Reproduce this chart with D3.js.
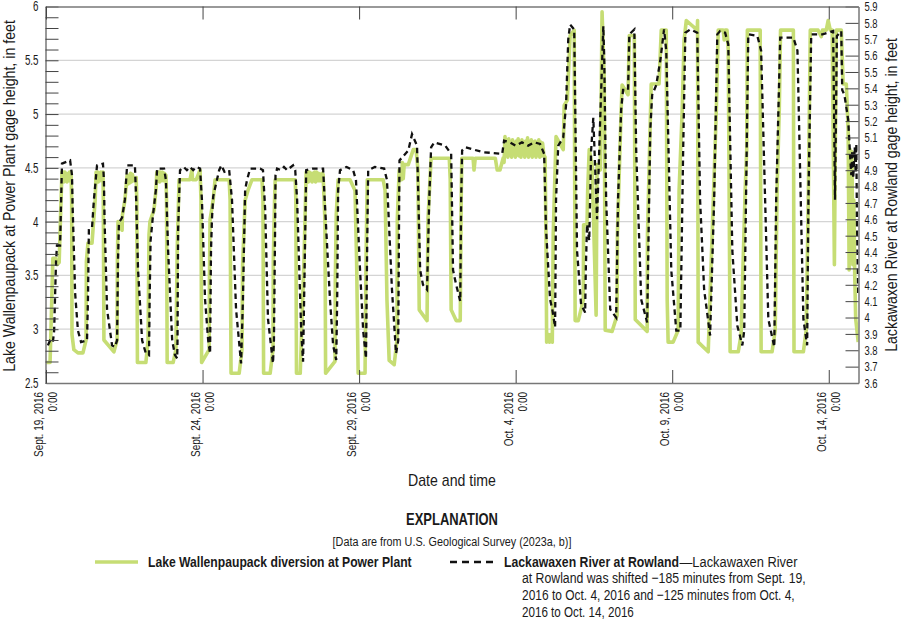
<!DOCTYPE html>
<html><head><meta charset="utf-8">
<script src="https://cdnjs.cloudflare.com/ajax/libs/d3/7.8.5/d3.min.js"></script>
<style>
html,body{margin:0;padding:0;background:#fff}
svg{display:block}
text{font-family:"Liberation Sans",sans-serif;fill:#1a1a1a}
</style></head><body>
<svg id="c" width="903" height="621"></svg>
<script>
const tickDays=[0,5,10,15,20,25];
const tickDates=["Sept. 19, 2016","Sept. 24, 2016","Sept. 29, 2016","Oct. 4, 2016","Oct. 9, 2016","Oct. 14, 2016"];
const tickTime="0:00";
const leftLabelled=[2.5,3,3.5,4,4.5,5,5.5,6];
const gridValues=[3,3.5,4,4.5,5,5.5];
const leftTitle="Lake Wallenpaupack at Power Plant gage height, in feet";
const rightTitle="Lackawaxen River at Rowland gage height, in feet";
const xTitle="Date and time";

const greenDV=[
0,2.69,.13,2.69,.22,3.66,.3,3.66,.35,3.6,.42,3.62,.48,4.2,.51,4.46,.53,4.38,.55,4.46,.57,4.37,.6,4.46,.62,4.38,.65,4.45,.67,4.37,.7,4.44,.72,4.38,.75,4.46,.77,4.39,.8,4.46,
.82,4.2,.83,2.95,.89,2.81,1.02,2.78,1.18,2.78,1.28,2.9,1.29,3.63,1.34,3.8,1.47,3.8,1.57,4.2,1.6,4.46,1.62,4.38,1.65,4.46,1.67,4.37,1.7,4.45,1.72,4.38,1.75,4.46,1.77,4.39,1.8,4.45,1.82,4.46,
1.83,4.2,1.85,2.9,2.17,2.79,2.27,2.9,2.28,3.64,2.3,4,2.43,3.92,2.44,4.06,2.52,4.2,2.59,4.43,2.62,4.35,2.65,4.43,2.67,4.36,2.7,4.45,2.73,4.37,2.76,4.44,2.8,4.38,2.88,4.41,
2.9,4.2,2.92,2.69,3.19,2.69,3.26,2.9,3.29,3.88,3.32,4,3.45,4.11,3.51,4.29,3.54,4.46,3.57,4.38,3.6,4.46,3.63,4.37,3.65,4.46,3.68,4.38,3.72,4.46,3.75,4.38,3.78,4.45,3.83,4.43,
3.85,4.2,3.87,2.69,4.06,2.69,4.15,2.81,4.19,3.74,4.22,4.06,4.25,4.39,4.6,4.39,4.66,4.48,4.68,4.39,4.8,4.39,4.92,4.48,
4.95,4.2,4.97,2.69,5.21,2.81,5.22,3.46,5.24,4.02,5.34,4.2,5.4,4.39,5.85,4.39,5.88,4.2,5.91,2.59,6.17,2.59,6.26,2.81,6.28,3.6,6.36,4.2,6.45,4.29,6.58,4.39,
6.9,4.39,6.93,4.2,6.95,2.59,7.16,2.59,7.25,2.81,7.26,3.64,7.3,4.2,7.32,4.39,7.96,4.39,7.98,4.2,8,2.59,8.12,2.59,8.24,3.64,8.31,4.46,
8.33,4.38,8.36,4.46,8.38,4.37,8.41,4.46,8.44,4.38,8.47,4.45,8.5,4.37,8.52,4.45,8.55,4.38,8.58,4.46,8.61,4.37,8.64,4.46,8.67,4.38,8.7,4.45,8.73,4.38,8.76,4.44,8.79,4.38,8.82,4.45,8.85,4.44,
8.91,4,8.93,2.59,9.23,2.7,9.24,3.46,9.27,4.06,9.33,4.39,9.71,4.39,9.87,4.29,9.92,3.64,9.97,2.59,10.19,2.59,10.22,3.6,10.24,4.02,10.26,4.39,10.77,4.39,
10.83,4.29,10.89,3.27,10.96,2.71,11.12,2.67,11.21,2.9,11.22,4.02,11.28,4.48,11.31,4.39,11.36,4.39,11.38,4.55,11.41,4.4,11.44,4.53,11.57,4.53,11.73,4.67,11.82,4.67,11.88,4.48,
11.92,3.18,12.17,3.08,12.2,4.02,12.3,4.59,12.88,4.59,12.91,4.39,12.94,3.18,13.1,3.08,13.23,3.08,13.26,4.2,13.28,4.59,13.64,4.59,13.67,4.48,13.71,4.59,14.35,4.59,14.41,4.48,14.5,4.48,14.6,4.59,14.63,4.55,
14.66,4.79,14.69,4.62,14.72,4.76,14.75,4.6,14.78,4.77,14.81,4.62,14.84,4.74,14.87,4.6,14.9,4.76,14.93,4.63,14.96,4.73,14.99,4.6,15.02,4.75,15.05,4.62,15.08,4.77,15.11,4.61,15.14,4.74,15.17,4.6,15.2,4.76,15.23,4.63,15.26,4.74,15.29,4.6,15.32,4.75,15.35,4.62,15.38,4.78,15.41,4.6,15.44,4.73,15.47,4.62,15.5,4.76,15.53,4.6,15.56,4.74,15.59,4.62,15.62,4.75,15.65,4.6,15.68,4.73,15.71,4.62,15.74,4.76,15.77,4.6,15.8,4.74,15.83,4.61,15.86,4.73,15.9,4.62,15.94,4.6,
15.97,3.83,15.99,2.88,16.05,2.95,16.08,2.88,16.12,2.95,16.17,2.88,16.2,3.88,16.29,4.79,16.52,4.67,16.55,5.08,16.65,5.13,16.74,5.73,16.87,5.78,16.9,3.08,17,3.08,17.16,3.27,17.17,3.97,17.28,3.97,17.3,4.29,17.35,4.67,17.44,4.53,17.57,3.13,17.6,4.53,17.7,4.48,17.73,5.13,17.76,5.95,17.83,5.32,17.86,2.99,18.08,2.98,18.24,3.13,18.25,3.88,18.34,4.76,18.37,5.04,18.4,5.27,18.59,5.18,18.63,5.73,18.79,5.73,18.82,3.09,19.2,2.98,19.21,3.88,19.3,4.94,19.33,5.28,19.58,5.28,19.65,5.78,19.81,5.78,19.84,3.27,19.87,2.88,20.03,2.88,20.19,2.99,20.22,4.29,20.32,5.04,20.38,5.69,20.45,5.87,20.8,5.78,20.81,5.87,20.83,2.88,21.15,2.79,21.28,3.92,21.41,5.04,21.47,5.78,21.63,5.78,21.66,5.69,21.69,5.78,21.75,5.78,21.79,5.6,21.82,4.2,21.85,2.79,22.11,2.79,22.2,2.95,22.33,4.29,22.38,4.67,22.4,5.78,22.81,5.78,22.84,2.79,23.19,2.79,23.29,2.99,23.35,4.29,23.42,5.04,23.46,5.78,23.87,5.78,23.89,2.79,24.19,2.79,24.28,2.99,24.35,4.29,24.38,5.04,24.41,5.78,24.66,5.78,24.76,5.72,24.8,5.78,24.92,5.78,24.98,5.87,25.05,5.78,25.11,5.78,25.18,3.6,25.24,5.78,25.4,5.78,25.46,5.28,25.56,5.28,25.62,4.85,25.65,3.55,25.68,4.67,25.71,3.75,25.74,4.65,25.77,3.6,25.8,4.2,25.83,3.5,25.86,3.1,25.94,2.88];

const blackDV=[
.06,3.83,.13,3.86,.19,3.86,.22,3.85,.26,3.92,.32,4.34,.35,4.44,.45,4.44,.51,4.94,.77,4.96,.83,4.87,.85,4.68,.93,4.15,1.02,3.92,1.12,3.85,1.31,3.86,1.34,4.11,1.37,4.54,1.47,4.55,1.53,4.72,1.63,4.93,1.82,4.94,1.85,4.84,1.87,4.6,1.95,4.05,2.11,3.83,2.2,3.82,2.27,3.86,2.3,4.35,2.33,4.58,2.43,4.61,2.52,4.72,2.59,4.93,2.84,4.93,2.88,4.72,2.94,4.29,3.07,3.86,3.19,3.78,3.29,3.77,3.31,4.11,3.34,4.47,3.42,4.63,3.51,4.78,3.55,4.91,3.77,4.91,3.83,4.84,3.9,4.41,4.03,3.86,4.12,3.77,4.19,3.75,4.2,3.86,4.22,4.54,4.28,4.9,4.4,4.92,4.5,4.9,4.6,4.92,4.7,4.9,4.8,4.92,4.92,4.91,4.98,4.72,5.08,4.11,5.18,3.86,5.24,3.78,5.27,4.41,5.3,4.6,5.34,4.74,5.53,4.9,5.6,4.93,5.7,4.89,5.85,4.9,5.94,4.72,6.07,4.05,6.23,3.72,6.29,4.11,6.36,4.78,6.42,4.84,6.52,4.91,6.84,4.91,6.93,4.9,7,4.66,7.09,3.99,7.25,3.72,7.28,3.86,7.32,4.6,7.33,4.87,7.38,4.91,7.5,4.9,7.6,4.92,7.7,4.9,7.89,4.93,7.96,4.9,8.02,4.72,8.15,3.92,8.21,3.73,8.27,4.41,8.31,4.9,8.5,4.91,8.85,4.91,8.95,4.54,9.07,4.11,9.17,3.83,9.27,3.74,9.3,4.11,9.33,4.78,9.39,4.9,9.6,4.92,9.81,4.9,9.9,4.84,10.03,4.29,10.13,3.92,10.22,3.75,10.26,4.47,10.29,4.9,10.5,4.92,10.8,4.91,10.89,4.84,11.05,4.17,11.18,3.78,11.25,3.86,11.28,4.72,11.29,4.96,11.57,5.02,11.69,5.12,11.85,5.05,11.95,4.29,12.04,4.2,12.17,4.17,12.24,4.72,12.3,5.04,12.4,5.07,12.75,5.05,12.94,5,13,4.29,13.1,4.2,13.23,4.1,13.26,4.72,13.29,5.02,13.39,5.04,13.96,5.01,14.57,5,14.63,5.08,14.82,5.07,15,5.05,15.2,5.07,15.4,5.05,15.6,5.07,15.78,5.06,15.91,5,15.97,4.54,16.1,4.11,16.17,4.05,16.26,3.94,16.29,4.72,16.36,5.05,16.52,5.1,16.61,5.3,16.68,5.7,16.74,5.79,16.87,5.76,16.9,5.33,16.96,4.41,17.09,4.08,17.22,4.03,17.24,4.29,17.28,4.57,17.35,4.47,17.41,5.02,17.48,5.22,17.6,4.6,17.7,5.21,17.8,5.78,17.83,5.57,17.89,4.72,18.02,4.05,18.21,4,18.27,4.72,18.37,5.27,18.43,5.39,18.59,5.39,18.63,5.73,18.79,5.76,18.85,5.02,19.01,4.11,19.2,3.97,19.3,5.15,19.36,5.36,19.49,5.42,19.62,5.57,19.74,5.76,19.81,5.63,19.97,4.29,20.13,3.92,20.26,3.92,20.35,5.02,20.42,5.74,20.58,5.76,20.8,5.74,20.89,4.72,21.02,4.17,21.21,3.89,21.34,4.72,21.44,5.73,21.53,5.75,21.69,5.74,21.79,5.67,21.92,4.41,22.08,3.95,22.24,3.83,22.3,3.92,22.43,5.73,22.72,5.72,22.84,5.63,23.07,3.99,23.26,3.82,23.32,4.72,23.45,5.71,23.87,5.71,24,5.63,24.19,3.99,24.31,3.83,24.35,4.72,24.44,5.73,24.8,5.73,25.14,5.75,25.2,4.72,25.26,5.72,25.4,5.75,25.43,5.39,25.5,5.36,25.62,5.21,25.69,4.96,25.72,4.87,25.75,5.02,25.78,4.85,25.83,5.04,25.86,4.88,25.88,5.06,25.9,4.6,25.94,4.15];

const toPairs=a=>d3.range(0,a.length,2).map(i=>[a[i],a[i+1]]);
const L=45.5,R=858.5,T=6.5,B=383;
const svg=d3.select("#c");
const x=d3.scaleLinear().domain([0,25.95]).range([L+.5,R]);
const yL=d3.scaleLinear().domain([2.5,6]).range([B,T]);
const yR=d3.scaleLinear().domain([3.6,5.9]).range([B,T]);

// The reference uses a narrow face: each text is placed, rotated if needed, and scaled in width.
function place(sel,px,py,rot,target){
  const w=sel.node().getComputedTextLength();
  const k=target/w;
  sel.attr("transform",`translate(${px},${py})${rot?` rotate(${rot})`:""} scale(${k.toFixed(4)},1)`);
  return sel;
}
function squeezeAxis(sel,k,dx){sel.each(function(){
  this.removeAttribute("x");
  this.setAttribute("transform",`translate(${dx},0) scale(${k},1)`);
});}

svg.append("g").selectAll("line").data(gridValues).join("line")
 .attr("x1",L).attr("x2",R).attr("y1",d=>yL(d)).attr("y2",d=>yL(d))
 .attr("stroke","#d4d4d4").attr("stroke-width",1.3);

svg.append("clipPath").attr("id","pl").append("rect").attr("x",L).attr("y",T).attr("width",R-L).attr("height",B-T);

svg.append("path").datum(toPairs(greenDV))
 .attr("d",d3.line().x(d=>x(d[0])).y(d=>yL(d[1])))
 .attr("fill","none").attr("stroke","#c6dd74").attr("stroke-width",3.6).attr("stroke-linejoin","round").attr("clip-path","url(#pl)");
svg.append("path").datum(toPairs(blackDV))
 .attr("d",d3.line().x(d=>x(d[0])).y(d=>yR(d[1])))
 .attr("fill","none").attr("stroke","#111").attr("stroke-width",2.3).attr("stroke-dasharray","5.5,4").attr("clip-path","url(#pl)");

function style(g){g.select(".domain").attr("stroke","#777").attr("stroke-width",1.5);
 g.selectAll(".tick line").attr("stroke","#444").attr("stroke-width",1);}

const lAxis=d3.axisLeft(yL).tickValues(d3.range(25,61).map(d=>d/10)).tickSize(-13).tickSizeOuter(0).tickPadding(7)
 .tickFormat(d=>leftLabelled.some(v=>Math.abs(v-d)<1e-6)?String(+d.toFixed(1)):"");
const lg=svg.append("g").attr("transform",`translate(${L},0)`).call(lAxis).call(style);
squeezeAxis(lg.selectAll("text").style("font-size","14px").attr("fill","#1a1a1a"),.7,-7);

const rAxis=d3.axisRight(yR).tickValues(d3.range(36,60).map(d=>d/10)).tickSize(-13).tickSizeOuter(0).tickPadding(6)
 .tickFormat(d=>String(+d.toFixed(1)));
const rg=svg.append("g").attr("transform",`translate(${R},0)`).call(rAxis).call(style);
squeezeAxis(rg.selectAll("text").style("font-size","13.5px").attr("fill","#1a1a1a"),.7,6);

svg.append("g").attr("transform",`translate(0,${B})`).call(d3.axisBottom(x).tickValues(tickDays).tickSize(-13).tickSizeOuter(0).tickFormat("")).call(style);
svg.append("g").attr("transform",`translate(0,${T})`).call(d3.axisTop(x).tickValues(tickDays).tickSize(-13).tickSizeOuter(0).tickFormat("")).call(style);

const lab=svg.append("g").selectAll("g").data(tickDays).join("g")
 .attr("transform",d=>`translate(${x(d)},392) rotate(-90) scale(.74,1)`);
lab.append("text").attr("y",-3).attr("text-anchor","end").style("font-size","13.5px").text((d,i)=>tickDates[i]);
lab.append("text").attr("y",11).attr("text-anchor","end").style("font-size","13.5px").text(tickTime);

place(svg.append("text").attr("text-anchor","middle").style("font-size","16.5px").text(leftTitle),15,196,-90,352);
place(svg.append("text").attr("text-anchor","middle").style("font-size","16.5px").text(rightTitle),897,195,-90,314);
place(svg.append("text").attr("text-anchor","middle").style("font-size","16px").text(xTitle),452,486,0,88);

place(svg.append("text").attr("text-anchor","middle").style("font-size","16.5px").style("font-weight","bold").text("EXPLANATION"),452,525,0,92);
place(svg.append("text").attr("text-anchor","middle").style("font-size","13.5px").text("[Data are from U.S. Geological Survey (2023a, b)]"),452,546,0,239);

svg.append("line").attr("x1",95).attr("x2",138).attr("y1",562).attr("y2",562).attr("stroke","#c6dd74").attr("stroke-width",3.6);
place(svg.append("text").style("font-size","15px").style("font-weight","bold").text("Lake Wallenpaupack diversion at Power Plant"),148,567,0,264);
svg.append("line").attr("x1",450).attr("x2",496).attr("y1",562).attr("y2",562).attr("stroke","#111").attr("stroke-width",2.3).attr("stroke-dasharray","7,5");
place(svg.append("text").style("font-size","15px").style("font-weight","bold").text("Lackawaxen River at Rowland"),504,567,0,175);
place(svg.append("text").style("font-size","15px").text("—Lackawaxen River"),679.5,567,0,118);
const noteLines=["at Rowland was shifted −185 minutes from Sept. 19,","2016 to Oct. 4, 2016 and −125 minutes from Oct. 4,","2016 to Oct. 14, 2016"];
const noteWidths=[284,273,112];
noteLines.forEach((s,i)=>place(svg.append("text").style("font-size","15px").text(s),522,583+i*17,0,noteWidths[i]));
</script>
</body></html>
